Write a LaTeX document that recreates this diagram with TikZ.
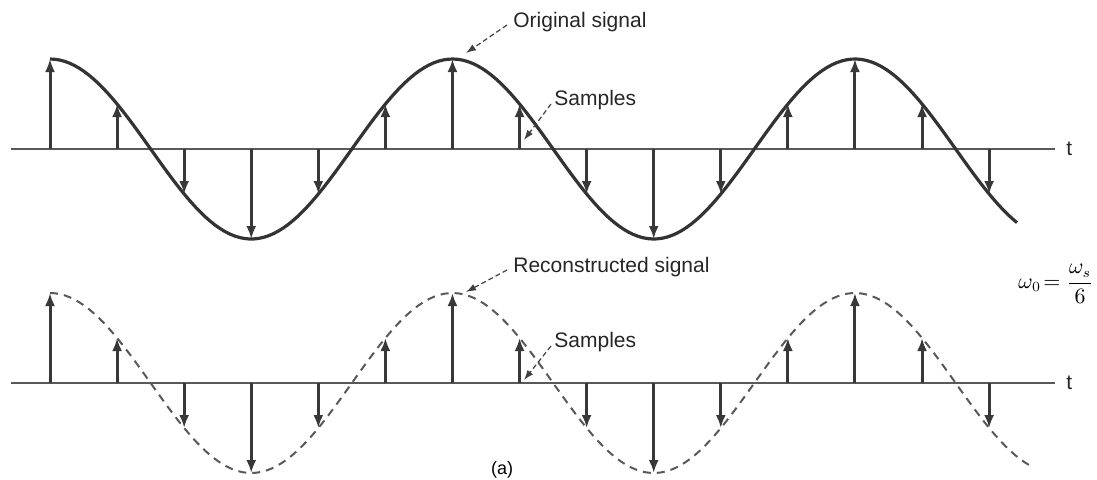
\documentclass[tikz,border=0pt]{standalone}
\usepackage{fontspec}
\setmainfont{Liberation Sans}
\usetikzlibrary{arrows.meta}

\begin{document}
\begin{tikzpicture}[
  x=0.5pt, y=-0.5pt,
  font=\fontsize{10.5}{12}\selectfont,
  axis/.style={line width=1.4pt, black!65},
  signal/.style={line width=1.6pt, black!80, line join=round},
  recon/.style={line width=1pt, black!65, dash pattern=on 4pt off 3pt},
  spike/.style={-{Latex[length=6.5pt, width=5pt]}, line width=1.5pt, black!78},
  callout/.style={-{Latex[length=5pt, width=3.5pt]}, line width=0.6pt, black!75, dash pattern=on 2.5pt off 1.5pt},
  lbl/.style={anchor=west, inner sep=1pt, black!85}
]
\useasboundingbox (0,0) rectangle (1097,479);

% upper row: original signal and its samples
\draw[axis] (11,149) -- (1055,149);
\node[lbl] (t1) at (1064,149) {t};
\draw[signal] plot[domain=50:1017, samples=200] (\x, {149-90*cos((\x-50)/402.5*360)});
\foreach \i in {0,...,14}
  \draw[spike] ({50+\i*67.08},149) -- ({50+\i*67.08},{149-90*cos(60*\i)});

\node[lbl] (orig) at (511,22) {Original signal};
\coordinate (origtip) at (466,53);
\draw[callout] ([shift={(-4,3)}]orig.west) -- (origtip);
\node[lbl] (smp1) at (552,100) {Samples};
\coordinate (smp1tip) at (524,140);
\draw[callout] ([shift={(-1,4)}]smp1.west) -- (smp1tip);

% lower row: reconstructed signal
\draw[axis] (11,383) -- (1055,383);
\node[lbl] (t2) at (1064,383) {t};
\draw[recon] plot[domain=50:1030, samples=200] (\x, {383-90*cos((\x-50)/402.5*360)});
\foreach \i in {0,...,14}
  \draw[spike] ({50+\i*67.08},383) -- ({50+\i*67.08},{383-90*cos(60*\i)});

\node[lbl] (rec) at (511,267) {Reconstructed signal};
\coordinate (rectip) at (466,292);
\draw[callout] ([shift={(-4,3)}]rec.west) -- (rectip);
\node[lbl] (smp2) at (552,342) {Samples};
\coordinate (smp2tip) at (524,380);
\draw[callout] ([shift={(-1,4)}]smp2.west) -- (smp2tip);

\node[inner sep=1pt] (freq) at (1056,284) {$\displaystyle\omega_0\!=\frac{\omega_s}{6}$};
\node (cap) at (502,470) {\fontsize{9}{10}\selectfont (a)};

\end{tikzpicture}
\end{document}
